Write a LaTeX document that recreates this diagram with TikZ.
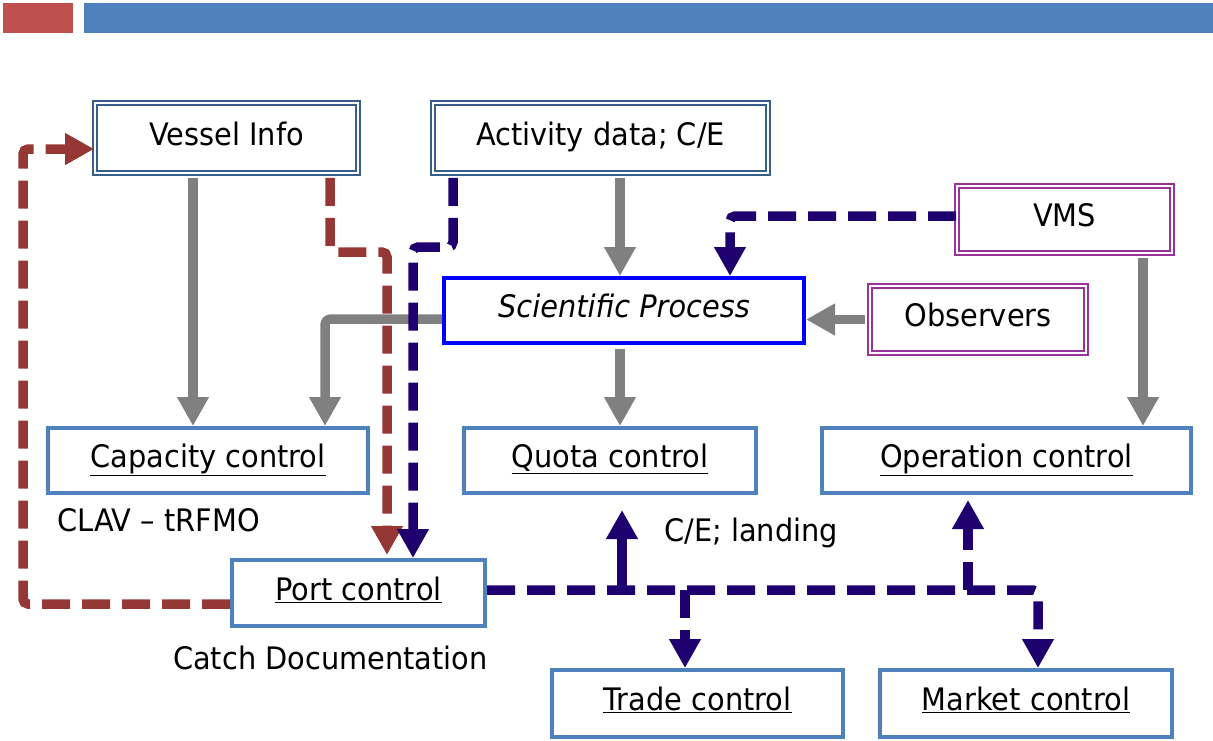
\documentclass[tikz,border=0pt]{standalone}
\usepackage{fontspec}
\setmainfont[FakeStretch=0.93]{DejaVu Sans}
\usetikzlibrary{arrows.meta,calc}
\definecolor{barred}{RGB}{192,80,77}
\definecolor{barblue}{RGB}{79,129,189}
\definecolor{ctrlblue}{RGB}{79,129,189}
\definecolor{infoblue}{RGB}{56,93,138}
\definecolor{vmspurple}{RGB}{153,51,153}
\definecolor{navy}{RGB}{30,0,110}
\definecolor{brick}{RGB}{149,55,53}
\definecolor{arrgray}{RGB}{128,128,128}
\tikzset{
  lbl/.style={font=\fontsize{31}{36}\selectfont, text=black},
  boxtext/.style={lbl, text height=14pt, text depth=0pt},
  infobox/.style={boxtext, draw=infoblue, double=white, double distance=2pt, line width=1.8pt, fill=white, inner sep=0pt},
  srcbox/.style={boxtext, draw=vmspurple, double=white, double distance=2pt, line width=1.8pt, fill=white, inner sep=0pt},
  ctrlbox/.style={boxtext, draw=ctrlblue, line width=4pt, fill=white, inner sep=0pt},
  scibox/.style={boxtext, draw=blue, line width=4pt, fill=white, inner sep=0pt},
  tip/.style={-{Triangle[width=30pt,length=29pt]}},
  grayarr/.style={draw=arrgray, line width=9.5pt, tip, rounded corners=6pt},
  navyarr/.style={draw=navy, line width=9.5pt, tip, dash pattern=on 28pt off 12pt, rounded corners=5pt},
  navysolid/.style={draw=navy, line width=9.5pt, tip},
  brickarr/.style={draw=brick, line width=9.5pt, tip, dash pattern=on 28pt off 12pt, rounded corners=5pt},
  note/.style={lbl, anchor=west, inner sep=0pt}
}
\begin{document}
\begin{tikzpicture}[x=1pt,y=-1pt]
\useasboundingbox (0,0) rectangle (1213,740);
% header bars
\fill[barred] (3,3) rectangle (73,33);
\fill[barblue] (84,3) rectangle (1213,33);
% boxes
\node[infobox, minimum width=263pt, minimum height=70pt] (vessel) at (226.5,138) {Vessel Info};
\node[infobox, minimum width=335pt, minimum height=70pt] (activity) at (600.5,138) {Activity data; C/E};
\node[srcbox, minimum width=215pt, minimum height=67pt] (vms) at (1064.5,219.5) {VMS};
\node[srcbox, minimum width=216pt, minimum height=67pt] (obs) at (978,319.5) {Observers};
\node[scibox, minimum width=360pt, minimum height=65pt] (sci) at (624,310.5) {\itshape Scientific Process};
\node[ctrlbox, minimum width=320pt, minimum height=65pt] (cap) at (208,460.5) {\underline{Capacity control}};
\node[ctrlbox, minimum width=292pt, minimum height=65pt] (quota) at (610,460.5) {\underline{Quota control}};
\node[ctrlbox, minimum width=369pt, minimum height=65pt] (oper) at (1006.5,460.5) {\underline{Operation control}};
\node[ctrlbox, minimum width=253pt, minimum height=66pt] (port) at (358.5,593) {\underline{Port control}};
\node[ctrlbox, minimum width=291pt, minimum height=67pt] (trade) at (697.5,703.5) {\underline{Trade control}};
\node[ctrlbox, minimum width=292pt, minimum height=67pt] (market) at (1026,703.5) {\underline{Market control}};
% notes
\node[note] (clav) at (57,520) {CLAV -- tRFMO};
\node[note] (catch) at (173,658) {Catch Documentation};
\node[note] (ce) at (664,533) {C/E; landing};
% helper coordinates
\coordinate (xa) at (193,0);
\coordinate (xb) at (620,0);
\coordinate (xc) at (325,319);
\coordinate (xd) at (1143,0);
\coordinate (n1) at (453,247);
\coordinate (n2) at (413,247);
\coordinate (v1) at (730,216);
\coordinate (p1) at (1038,590);
\coordinate (bq) at (622,590);
\coordinate (bt) at (685,590);
\coordinate (bo) at (968,590);
\coordinate (r1) at (330,252);
\coordinate (r2) at (387,252);
\coordinate (l1) at (23,604);
\coordinate (l2) at (23,149);
% gray arrows
\draw[grayarr, shorten <=4pt] (vessel.south -| xa) -- (cap.north -| xa);
\draw[grayarr, shorten <=4pt] (activity.south -| xb) -- (sci.north -| xb);
\draw[grayarr, shorten <=4pt] (sci.south -| xb) -- (quota.north -| xb);
\draw[grayarr, shorten <=4pt] (vms.south -| xd) -- (oper.north -| xd);
\draw[grayarr] (sci.west |- xc) -- (xc) -- (cap.north -| xc);
\draw[grayarr, shorten <=4pt] (obs.west) -- (sci.east |- obs.west);
% brick arrows
\draw[brickarr, shorten <=4pt, shorten >=3pt] (vessel.south -| r1) -- (r1) -- (r2) -- (port.north -| r2);
\draw[brickarr] (port.west |- l1) -- (l1) -- (l2) -- (vessel.west |- l2);
% navy arrows
\draw[navyarr, shorten <=4pt] (activity.south -| n1) -- (n1) -- (n2) -- (port.north -| n2);
\draw[navyarr] (vms.west |- v1) -- (v1) -- (sci.north -| v1);
\draw[navyarr] (port.east |- p1) -- (p1) -- (market.north -| p1);
\draw[navysolid, shorten >=15pt] (bq) -- (quota.south -| bq);
\draw[navyarr] (bt) -- (trade.north -| bt);
\draw[navyarr, shorten >=5pt] (bo) -- (oper.south -| bo);
\end{tikzpicture}
\end{document}
